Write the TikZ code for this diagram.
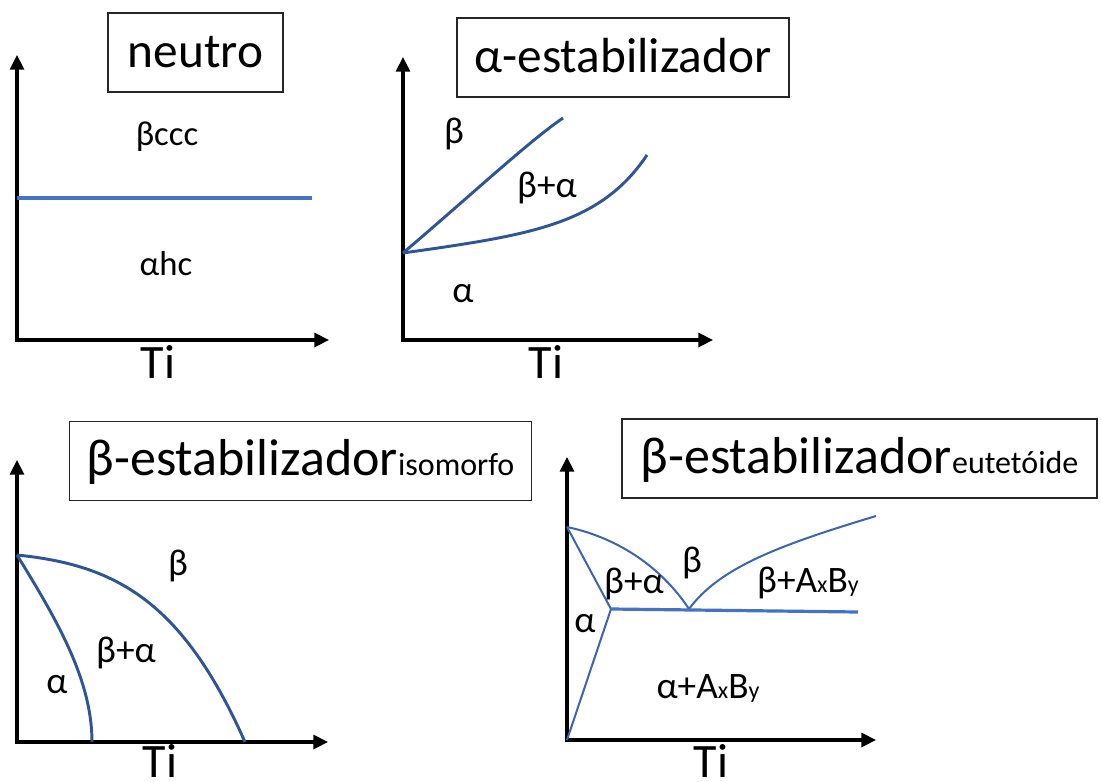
\documentclass[tikz,border=0pt]{standalone}
\usepackage{fontspec}
\setmainfont{Carlito}
\usetikzlibrary{arrows.meta}
\definecolor{lblue}{HTML}{4472C4}
\definecolor{dblue}{HTML}{2F5597}
\definecolor{mblue}{HTML}{3C64B0}
\newcommand{\sbfont}{\fontsize{24}{26}\selectfont}
\newcommand{\smfont}{\fontsize{18}{20}\selectfont}
\begin{document}
\begin{tikzpicture}[x=0.75pt,y=-0.75pt,
  axis/.style={line width=2.3pt,line cap=rect,-{Triangle[length=11pt,width=10.5pt]}},
  titlebox/.style={draw=black!85,line width=1.3pt,inner sep=0pt,minimum height=59.25pt,
    text height=25.5pt,text depth=3.75pt,font=\fontsize{37}{40}\selectfont},
  bigtitle/.style={titlebox,font=\fontsize{39}{42}\selectfont},
  lbl/.style={font=\fontsize{28}{32}\selectfont,anchor=base,inner sep=0pt},
  slbl/.style={lbl,font=\fontsize{26}{30}\selectfont},
  tilbl/.style={font=\fontsize{36}{40}\selectfont,anchor=base,inner sep=0pt},
  curveA/.style={dblue,line width=2.2pt},
  curveB/.style={mblue,line width=1.5pt},
  flat/.style={lblue,line width=2.4pt}]
\useasboundingbox (0,0) rectangle (1101,782);

% ---------- Panel 1: neutro ----------
\coordinate (o1) at (17,340);
\coordinate (y1) at (17,55);
\coordinate (x1) at (329,340);
\draw[axis] (o1) -- (y1);
\draw[axis] (o1) -- (x1);
\coordinate (n1a) at (17,198);
\coordinate (n1b) at (312,198);
\draw[flat] (n1a) -- (n1b);
\node[titlebox,minimum width=131.25pt] (t1) at (195.5,52.5) {neutro};
\node[slbl] (l1a) at (167,145) {βccc};
\node[slbl] (l1b) at (166,275) {αhc};
\node[tilbl] (ti1) at (158,378) {Ti};

% ---------- Panel 2: alpha-estabilizador ----------
\coordinate (o2) at (403,340);
\coordinate (y2) at (403,57);
\coordinate (x2) at (713,340);
\coordinate (p2) at (403,253);
\coordinate (p2a) at (563,118);
\coordinate (p2b) at (647,155);
\draw[axis] (o2) -- (y2);
\draw[axis] (o2) -- (x2);
\draw[curveA] (p2) .. controls (470,196) and (528,142) .. (p2a);
\draw[curveA] (p2) .. controls (530,235) and (600,225) .. (p2b);
\node[titlebox,minimum width=249pt] (t2) at (623,57.5) {α-estabilizador};
\node[lbl] (l2a) at (454,143) {β};
\node[lbl] (l2b) at (547,197) {β+α};
\node[lbl] (l2c) at (463,302) {α};
\node[tilbl] (ti2) at (546,378) {Ti};

% ---------- Panel 3: beta-estabilizador isomorfo ----------
\coordinate (o3) at (17,742);
\coordinate (y3) at (17,460);
\coordinate (x3) at (328,742);
\coordinate (p3) at (17,555);
\coordinate (p3a) at (92,742);
\coordinate (p3b) at (245,742);
\draw[axis] (o3) -- (y3);
\draw[axis] (o3) -- (x3);
\draw[curveA] (p3) .. controls (57,620) and (92,680) .. (p3a);
\draw[curveA] (p3) .. controls (115,565) and (182,600) .. (p3b);
\node[bigtitle,minimum width=346.5pt] (t3) at (300.5,461) {β-estabilizador{\sbfont isomorfo}};
\node[lbl] (l3a) at (178,575) {β};
\node[lbl] (l3b) at (126,662) {β+α};
\node[lbl] (l3c) at (57,693) {α};
\node[tilbl] (ti3) at (160,777) {Ti};

% ---------- Panel 4: beta-estabilizador eutetoide ----------
\coordinate (o4) at (567,740);
\coordinate (y4) at (567,457);
\coordinate (x4) at (876,740);
\draw[axis] (o4) -- (y4);
\draw[axis] (o4) -- (x4);
\coordinate (A) at (567,527);
\coordinate (B) at (611,609);
\coordinate (E) at (689,609);
\coordinate (H) at (858,612);
\coordinate (T) at (876,516);
\draw[curveB] (A) -- (B);
\draw[curveB] (o4) -- (B);
\draw[curveB] (A) .. controls (615,537) and (660,565) .. (E);
\draw[curveB] (E) .. controls (720,567) and (780,545) .. (T);
\draw[flat] (B) -- (H);
\node[bigtitle,minimum width=356pt] (t4) at (859.5,458.5) {β-estabilizador{\sbfont eutetóide}};
\node[lbl] (l4a) at (692,572) {β};
\node[lbl] (l4b) at (634,593) {β+α};
\node[lbl] (l4c) at (808,592) {β+A{\smfont x}B{\smfont y}};
\node[lbl] (l4d) at (585,632) {α};
\node[lbl] (l4e) at (708,698) {α+A{\smfont x}B{\smfont y}};
\node[tilbl] (ti4) at (711,777) {Ti};
\end{tikzpicture}
\end{document}
